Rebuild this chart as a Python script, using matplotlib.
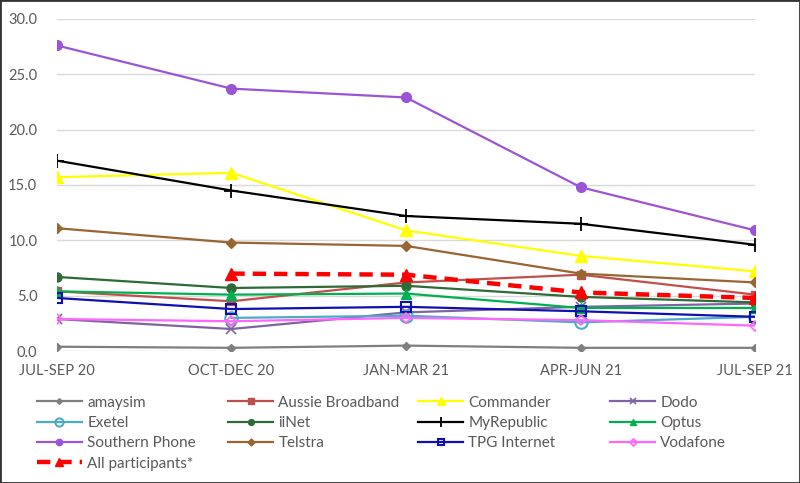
import numpy as np
import matplotlib.pyplot as plt
from matplotlib.patches import Rectangle

quarters = ["JUL-SEP 20", "OCT-DEC 20", "JAN-MAR 21", "APR-JUN 21", "JUL-SEP 21"]

amaysim = [0.4, 0.3, 0.5, 0.3, 0.3]
aussie = [5.4, 4.5, 6.2, 6.9, 5.1]
commander = [15.7, 16.1, 10.9, 8.6, 7.2]
dodo = [2.9, 2.0, 3.5, 4.0, 4.3]
exetel = [np.nan, 3.0, 3.2, 2.6, 3.1]
iinet = [6.7, 5.7, 5.9, 4.9, 4.4]
myrepublic = [17.2, 14.5, 12.2, 11.5, 9.6]
optus = [5.4, 5.1, 5.2, 3.9, 3.9]
southern = [27.6, 23.7, 22.9, 14.8, 10.9]
telstra = [11.1, 9.8, 9.5, 7.0, 6.2]
tpg = [4.8, 3.8, 4.0, 3.6, 3.1]
vodafone = [2.9, 2.7, 3.0, 2.8, 2.3]
all_part = [np.nan, 7.0, 6.9, 5.3, 4.8]

plt.rcParams['font.family'] = ['Lato', 'DejaVu Sans']
txt = '#595959'

fig = plt.figure(figsize=(8, 4.83), dpi=100)
ax = fig.add_axes([0.071, 0.273, 0.873, 0.688])
x = np.arange(len(quarters))

series = [
    ("amaysim", amaysim, dict(color='#7f7f7f', marker='D', ms=4.5)),
    ("Aussie Broadband", aussie, dict(color='#c0504d', marker='s', ms=6)),
    ("Commander", commander, dict(color='#ffff00', marker='^', ms=8)),
    ("Dodo", dodo, dict(color='#8064a2', marker='x', ms=7, mew=1.2)),
    ("Exetel", exetel, dict(color='#4bacc6', marker='o', ms=9, mfc='none', mew=1.5)),
    ("iiNet", iinet, dict(color='#2e6b36', marker='o', ms=6.5)),
    ("MyRepublic", myrepublic, dict(color='#000000', marker='+', ms=10, mew=1.3)),
    ("Optus", optus, dict(color='#00b050', marker='^', ms=7)),
    ("Southern Phone", southern, dict(color='#9a55d6', marker='o', ms=7)),
    ("Telstra", telstra, dict(color='#996633', marker='D', ms=5.5)),
    ("TPG Internet", tpg, dict(color='#1010b0', marker='s', ms=6.5, mfc='none', mew=1.5)),
    ("Vodafone", vodafone, dict(color='#ff66ff', marker='D', ms=5.5, mfc='none', mew=1.2)),
]

handles = {}
for name, vals, st in series:
    h, = ax.plot(x, vals, lw=1.6, label=name, **st)
    handles[name] = h
h, = ax.plot(x, all_part, color='#ff0000', lw=3.2, ls=(0, (3, 1.8)), marker='^', ms=8,
             label='All participants*', zorder=5)
handles['All participants*'] = h

ax.set_xlim(0, 4)
ax.set_ylim(0, 30)
ax.set_yticks(np.arange(0, 31, 5))
ax.set_yticklabels([f"{v:.1f}" for v in np.arange(0, 31, 5)])
ax.set_xticks(x)
ax.set_xticklabels(quarters)
ax.grid(axis='y', color='#d9d9d9', lw=1)
ax.set_axisbelow(True)
for s in ax.spines.values():
    s.set_visible(False)
ax.tick_params(length=0, colors=txt, labelsize=10.5)
ax.tick_params(axis='x', pad=9)
ax.tick_params(axis='y', pad=14)

# legend: 4 columns placed like the original
columns = [["amaysim", "Exetel", "Southern Phone", "All participants*"],
           ["Aussie Broadband", "iiNet", "Telstra"],
           ["Commander", "MyRepublic", "TPG Internet"],
           ["Dodo", "Optus", "Vodafone"]]
col_x = [0.046, 0.285, 0.5225, 0.7625]
for names, cx in zip(columns, col_x):
    leg = fig.legend([handles[n] for n in names], names, loc='upper left',
                     bbox_to_anchor=(cx, 0.181), frameon=False, fontsize=11,
                     handlelength=2.95, handletextpad=0.35, labelspacing=0.42,
                     borderpad=0, borderaxespad=0, markerscale=0.65)
    for t in leg.get_texts():
        t.set_color(txt)

fig.patches.append(Rectangle((0, 0), 1, 1, transform=fig.transFigure, fill=False,
                             edgecolor='#333333', lw=2))
fig.savefig('out.png', dpi=100)
